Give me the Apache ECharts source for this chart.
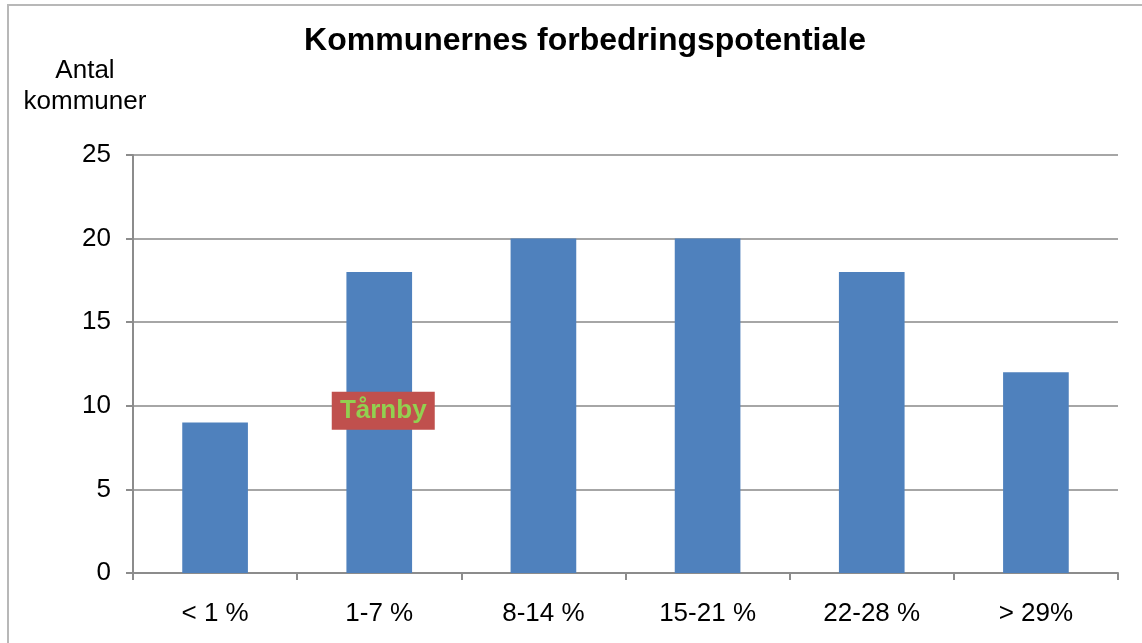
<!DOCTYPE html>
<html><head><meta charset="utf-8">
<script src="https://cdn.jsdelivr.net/npm/echarts@6/dist/echarts.min.js"></script>
<style>html,body{margin:0;padding:0;background:#fff}#c{width:1142px;height:643px}
#frame{position:absolute;left:7px;top:4px;width:1200px;height:700px;border:2px solid #b8b8b8;pointer-events:none}</style>
</head><body><div id="c"></div><div id="frame"></div>
<script>
const categories = ['< 1 %', '1-7 %', '8-14 %', '15-21 %', '22-28 %', '> 29%'];
const counts = [9, 18, 20, 20, 18, 12];
const annotationLabel = 'Tårnby';
const annotationCategory = '1-7 %';
const annotationValue = 9.7;
const yTicks = [0, 5, 10, 15, 20, 25];

const chart = echarts.init(document.getElementById('c'));
chart.setOption({
  animation: false,
  textStyle: {fontFamily: 'Liberation Sans, Arial, sans-serif'},
  title: {text: 'Kommunernes forbedringspotentiale', left: 580, textAlign: 'center', top: 20,
    textStyle: {fontSize: 32, fontWeight: 'bold', color: '#000', fontFamily: 'Liberation Sans, Arial, sans-serif'}},
  grid: {left: 133, right: 24, top: 155, bottom: 70},
  xAxis: {type: 'category', data: categories,
    axisLine: {lineStyle: {color: '#8c8c8c', width: 2}},
    axisTick: {show: true, length: 7, lineStyle: {color: '#8c8c8c', width: 2}},
    axisLabel: {fontSize: 26, color: '#000', margin: 28}},
  yAxis: {type: 'value', min: yTicks[0], max: yTicks[yTicks.length-1], interval: 5,
    name: 'Antal\nkommuner', nameLocation: 'end', nameGap: 38,
    nameTextStyle: {fontSize: 26, color: '#000', align: 'center', lineHeight: 31, padding: [0, 96, 0, 0]},
    axisLine: {show: true, lineStyle: {color: '#8c8c8c', width: 2}},
    axisTick: {show: true, length: 7, lineStyle: {color: '#8c8c8c', width: 2}},
    axisLabel: {fontSize: 26, color: '#000', margin: 22},
    splitLine: {lineStyle: {color: '#a6a6a6', width: 2}}},
  series: [{type: 'bar', data: counts, barWidth: '40%', itemStyle: {color: '#4f81bd'},
    markPoint: {symbol: 'rect', symbolSize: [103, 38], symbolOffset: [4, 0],
      itemStyle: {color: '#c0504d'},
      label: {show: true, formatter: annotationLabel, color: '#92d050', fontSize: 26, fontWeight: 'bold'},
      data: [{coord: [annotationCategory, annotationValue]}]}}]
});
</script></body></html>
